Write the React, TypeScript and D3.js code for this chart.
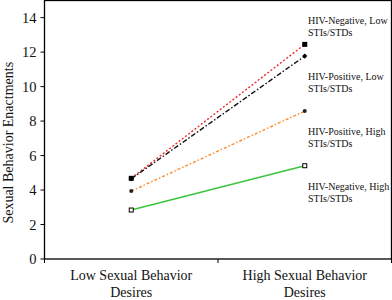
import React from "react";
import * as d3 from "d3";

const categories: string[][] = [
  ["Low Sexual Behavior", "Desires"],
  ["High Sexual Behavior", "Desires"],
];
const yTicks: number[] = [0, 2, 4, 6, 8, 10, 12, 14];

const seriesNames: string[][] = [
  ["HIV-Negative, Low", "STIs/STDs"],
  ["HIV-Positive, Low", "STIs/STDs"],
  ["HIV-Positive, High", "STIs/STDs"],
  ["HIV-Negative, High", "STIs/STDs"],
];
const negLow: number[] = [4.68, 12.45];
const posLow: number[] = [4.65, 11.77];
const posHigh: number[] = [3.94, 8.58];
const negHigh: number[] = [2.84, 5.41];
const labelAt: number[] = [13.85, 10.6, 7.4, 4.2];

const seriesValues = [negLow, posLow, posHigh, negHigh];
const colors = ["#ee2a2a", "#111111", "#ff8a2a", "#3cc43c"];
const dashes = ["2,2", "5,2,1.5,2", "3,2,1.5,2", "none"];
const markers = ["square", "diamond", "circle", "hollow"];

const W = 392;
const H = 300;
const left = 44.5;
const right = 391.5;
const top = 0.5;
const bottom = 259;

export default function App() {
  const x = d3.scaleBand<number>().domain([0, 1]).range([left, right]);
  const y = d3.scaleLinear().domain([0, 15]).range([bottom, bottom - 15 * 17.24]);
  const line = d3
    .line<number>()
    .x((_, i) => x(i)! + x.bandwidth() / 2)
    .y((d) => y(d));
  const font = "'Liberation Serif', 'Times New Roman', serif";

  const marker = (kind: string, cx: number, cy: number, key: string) => {
    if (kind === "square")
      return <rect key={key} x={cx - 2.5} y={cy - 2.5} width={5} height={5} fill="#000" />;
    if (kind === "diamond")
      return (
        <path key={key} d={`M${cx},${cy - 2.6}L${cx + 2.6},${cy}L${cx},${cy + 2.6}L${cx - 2.6},${cy}Z`} fill="#000" />
      );
    if (kind === "circle") return <circle key={key} cx={cx} cy={cy} r={2} fill="#222" />;
    return (
      <rect key={key} x={cx - 2} y={cy - 2} width={4} height={4} fill="#fff" stroke="#000" strokeWidth={1} />
    );
  };

  return (
    <svg
      width={W}
      height={H}
      style={{ position: "absolute", left: 0, top: 0, background: "#fff" }}
      fontFamily={font}
    >
      <rect x={left} y={top} width={right - left} height={bottom - top} fill="none" stroke="#000" strokeWidth={1.3} />
      {yTicks.map((t) => (
        <g key={t}>
          <line x1={left - 4} x2={left} y1={y(t)} y2={y(t)} stroke="#000" strokeWidth={1} />
          <text x={left - 8} y={y(t)} dy="0.35em" textAnchor="end" fontSize={14.5} fill="#111">
            {t}
          </text>
        </g>
      ))}
      {[0, 1, 2].map((i) => {
        const xx = i < 2 ? x(i)! : right;
        return <line key={i} x1={xx} x2={xx} y1={bottom} y2={bottom + 4} stroke="#000" strokeWidth={1} />;
      })}
      {categories.map((lines, i) => (
        <text
          key={i}
          x={x(i)! + x.bandwidth() / 2}
          y={bottom + 21}
          textAnchor="middle"
          fontSize={14}
          fill="#111"
        >
          {lines.map((l, j) => (
            <tspan key={j} x={x(i)! + x.bandwidth() / 2} dy={j === 0 ? 0 : 16.6}>
              {l}
            </tspan>
          ))}
        </text>
      ))}
      <text
        transform={`translate(13,${(top + bottom) / 2 + 13}) rotate(-90)`}
        textAnchor="middle"
        fontSize={14}
        fill="#111"
      >
        Sexual Behavior Enactments
      </text>
      {seriesValues.map((vals, s) => (
        <g key={s}>
          <path d={line(vals)!} fill="none" stroke={colors[s]} strokeWidth={1.4} strokeDasharray={dashes[s]} />
          {vals.map((v, i) => marker(markers[s], x(i)! + x.bandwidth() / 2, y(v), `${s}-${i}`))}
        </g>
      ))}
      {seriesNames.map((lines, s) => (
        <text key={s} x={308} y={y(labelAt[s])} fontSize={10} fill="#111">
          {lines.map((l, j) => (
            <tspan key={j} x={308} dy={j === 0 ? "0.35em" : 12}>
              {l}
            </tspan>
          ))}
        </text>
      ))}
    </svg>
  );
}
